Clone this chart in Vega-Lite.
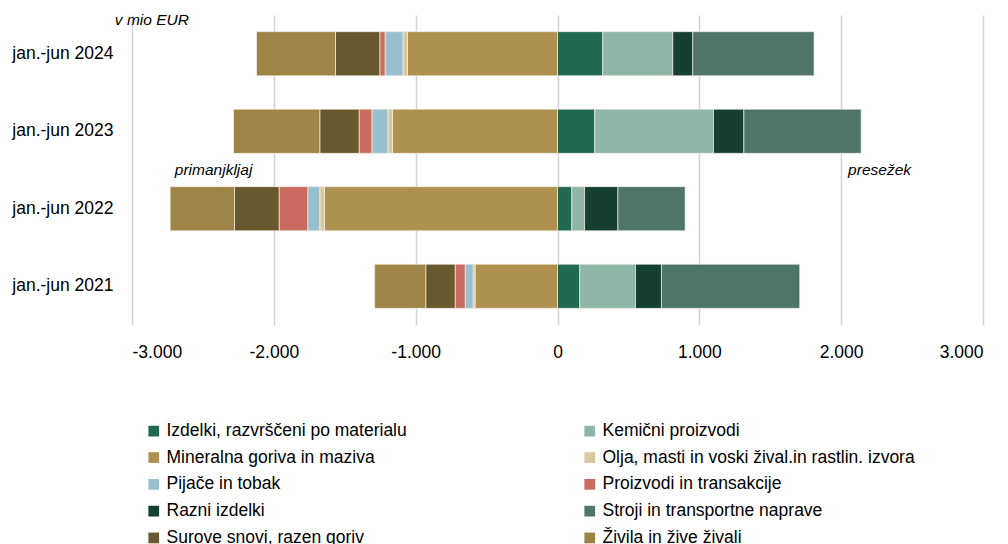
{
  "$schema": "https://vega.github.io/schema/vega-lite/v6.json",
  "autosize": "none",
  "padding": {"left": 132, "top": 15, "right": 25, "bottom": 219},
  "width": 851,
  "height": 310,
  "config": {
    "view": {"stroke": null},
    "font": "Liberation Sans",
    "axis": {"labelFont": "Liberation Sans", "labelColor": "#000000"},
    "legend": {"labelFont": "Liberation Sans", "labelColor": "#000000"}
  },
  "layer": [
    {
      "data": {
        "values": [
          {"period": "jan.-jun 2024", "category": "Mineralna goriva in maziva", "value": -1058},
          {"period": "jan.-jun 2024", "category": "Olja, masti in voski žival.in rastlin. izvora", "value": -31},
          {"period": "jan.-jun 2024", "category": "Pijače in tobak", "value": -127},
          {"period": "jan.-jun 2024", "category": "Proizvodi in transakcije", "value": -37},
          {"period": "jan.-jun 2024", "category": "Surove snovi, razen goriv", "value": -312},
          {"period": "jan.-jun 2024", "category": "Živila in žive živali", "value": -557},
          {"period": "jan.-jun 2024", "category": "Izdelki, razvrščeni po materialu", "value": 319},
          {"period": "jan.-jun 2024", "category": "Kemični proizvodi", "value": 494},
          {"period": "jan.-jun 2024", "category": "Razni izdelki", "value": 141},
          {"period": "jan.-jun 2024", "category": "Stroji in transportne naprave", "value": 855},

          {"period": "jan.-jun 2023", "category": "Mineralna goriva in maziva", "value": -1163},
          {"period": "jan.-jun 2023", "category": "Olja, masti in voski žival.in rastlin. izvora", "value": -33},
          {"period": "jan.-jun 2023", "category": "Pijače in tobak", "value": -113},
          {"period": "jan.-jun 2023", "category": "Proizvodi in transakcije", "value": -90},
          {"period": "jan.-jun 2023", "category": "Surove snovi, razen goriv", "value": -277},
          {"period": "jan.-jun 2023", "category": "Živila in žive živali", "value": -608},
          {"period": "jan.-jun 2023", "category": "Izdelki, razvrščeni po materialu", "value": 263},
          {"period": "jan.-jun 2023", "category": "Kemični proizvodi", "value": 837},
          {"period": "jan.-jun 2023", "category": "Razni izdelki", "value": 214},
          {"period": "jan.-jun 2023", "category": "Stroji in transportne naprave", "value": 827},

          {"period": "jan.-jun 2022", "category": "Mineralna goriva in maziva", "value": -1643},
          {"period": "jan.-jun 2022", "category": "Olja, masti in voski žival.in rastlin. izvora", "value": -33},
          {"period": "jan.-jun 2022", "category": "Pijače in tobak", "value": -85},
          {"period": "jan.-jun 2022", "category": "Proizvodi in transakcije", "value": -202},
          {"period": "jan.-jun 2022", "category": "Surove snovi, razen goriv", "value": -314},
          {"period": "jan.-jun 2022", "category": "Živila in žive živali", "value": -454},
          {"period": "jan.-jun 2022", "category": "Izdelki, razvrščeni po materialu", "value": 101},
          {"period": "jan.-jun 2022", "category": "Kemični proizvodi", "value": 90},
          {"period": "jan.-jun 2022", "category": "Razni izdelki", "value": 235},
          {"period": "jan.-jun 2022", "category": "Stroji in transportne naprave", "value": 474},

          {"period": "jan.-jun 2021", "category": "Mineralna goriva in maziva", "value": -581},
          {"period": "jan.-jun 2021", "category": "Olja, masti in voski žival.in rastlin. izvora", "value": -14},
          {"period": "jan.-jun 2021", "category": "Pijače in tobak", "value": -56},
          {"period": "jan.-jun 2021", "category": "Proizvodi in transakcije", "value": -71},
          {"period": "jan.-jun 2021", "category": "Surove snovi, razen goriv", "value": -207},
          {"period": "jan.-jun 2021", "category": "Živila in žive živali", "value": -360},
          {"period": "jan.-jun 2021", "category": "Izdelki, razvrščeni po materialu", "value": 157},
          {"period": "jan.-jun 2021", "category": "Kemični proizvodi", "value": 393},
          {"period": "jan.-jun 2021", "category": "Razni izdelki", "value": 183},
          {"period": "jan.-jun 2021", "category": "Stroji in transportne naprave", "value": 975}
        ]
      },
      "mark": {"type": "bar", "stroke": "#f4efe4", "strokeWidth": 0.7},
      "encoding": {
        "y": {
          "field": "period", "type": "nominal",
          "sort": ["jan.-jun 2024", "jan.-jun 2023", "jan.-jun 2022", "jan.-jun 2021"],
          "scale": {"paddingInner": 0.43, "paddingOuter": 0.215},
          "axis": {"title": null, "domain": false, "ticks": false, "labelFontSize": 17.5, "labelPadding": 19}
        },
        "x": {
          "field": "value", "type": "quantitative", "stack": "zero",
          "scale": {"domain": [-3000, 3000], "nice": false, "zero": true},
          "axis": {
            "title": null, "domain": false, "ticks": false,
            "values": [-3000, -2000, -1000, 0, 1000, 2000, 3000],
            "labelExpr": "replace(replace(format(datum.value, ','), ',', '.'), '\u2212', '-')",
            "labelFontSize": 17.5, "labelPadding": 18,
            "grid": true, "gridColor": "#d4d4d4", "gridWidth": 1.5
          }
        },
        "color": {
          "field": "category", "type": "nominal",
          "scale": {
            "domain": [
              "Izdelki, razvrščeni po materialu",
              "Kemični proizvodi",
              "Mineralna goriva in maziva",
              "Olja, masti in voski žival.in rastlin. izvora",
              "Pijače in tobak",
              "Proizvodi in transakcije",
              "Razni izdelki",
              "Stroji in transportne naprave",
              "Surove snovi, razen goriv",
              "Živila in žive živali"
            ],
            "range": ["#1f6a50", "#8fb5a6", "#af914f", "#d8c8a0", "#98c0cf", "#cb6a5e", "#153f30", "#4e7567", "#68582e", "#9e8446"]
          },
          "legend": {
            "title": null, "orient": "none", "legendX": 13, "legendY": 407,
            "columns": 2, "direction": "horizontal",
            "symbolType": "square", "symbolSize": 115, "symbolStrokeWidth": 0,
            "labelFontSize": 17.5, "labelOffset": 4, "rowPadding": 7.8, "columnPadding": 174,
            "labelLimit": 500, "padding": 0
          }
        }
      }
    },
    {
      "data": {"values": [
        {"period": "jan.-jun 2022", "x": -2698, "label": "primanjkljaj"},
        {"period": "jan.-jun 2022", "x": 2049, "label": "presežek"}
      ]},
      "mark": {"type": "text", "align": "left", "baseline": "middle", "dy": -39, "font": "Liberation Sans", "fontStyle": "italic", "fontSize": 15.5, "color": "#000000"},
      "encoding": {
        "x": {"field": "x", "type": "quantitative"},
        "y": {"field": "period", "type": "nominal", "sort": ["jan.-jun 2024", "jan.-jun 2023", "jan.-jun 2022", "jan.-jun 2021"]},
        "text": {"field": "label"}
      }
    },
    {
      "data": {"values": [
        {"period": "jan.-jun 2024", "x": -3121, "label": "v mio EUR"}
      ]},
      "mark": {"type": "text", "align": "left", "baseline": "middle", "dy": -34, "font": "Liberation Sans", "fontStyle": "italic", "fontSize": 15.5, "color": "#000000"},
      "encoding": {
        "x": {"field": "x", "type": "quantitative"},
        "y": {"field": "period", "type": "nominal", "sort": ["jan.-jun 2024", "jan.-jun 2023", "jan.-jun 2022", "jan.-jun 2021"]},
        "text": {"field": "label"}
      }
    }
  ]
}
